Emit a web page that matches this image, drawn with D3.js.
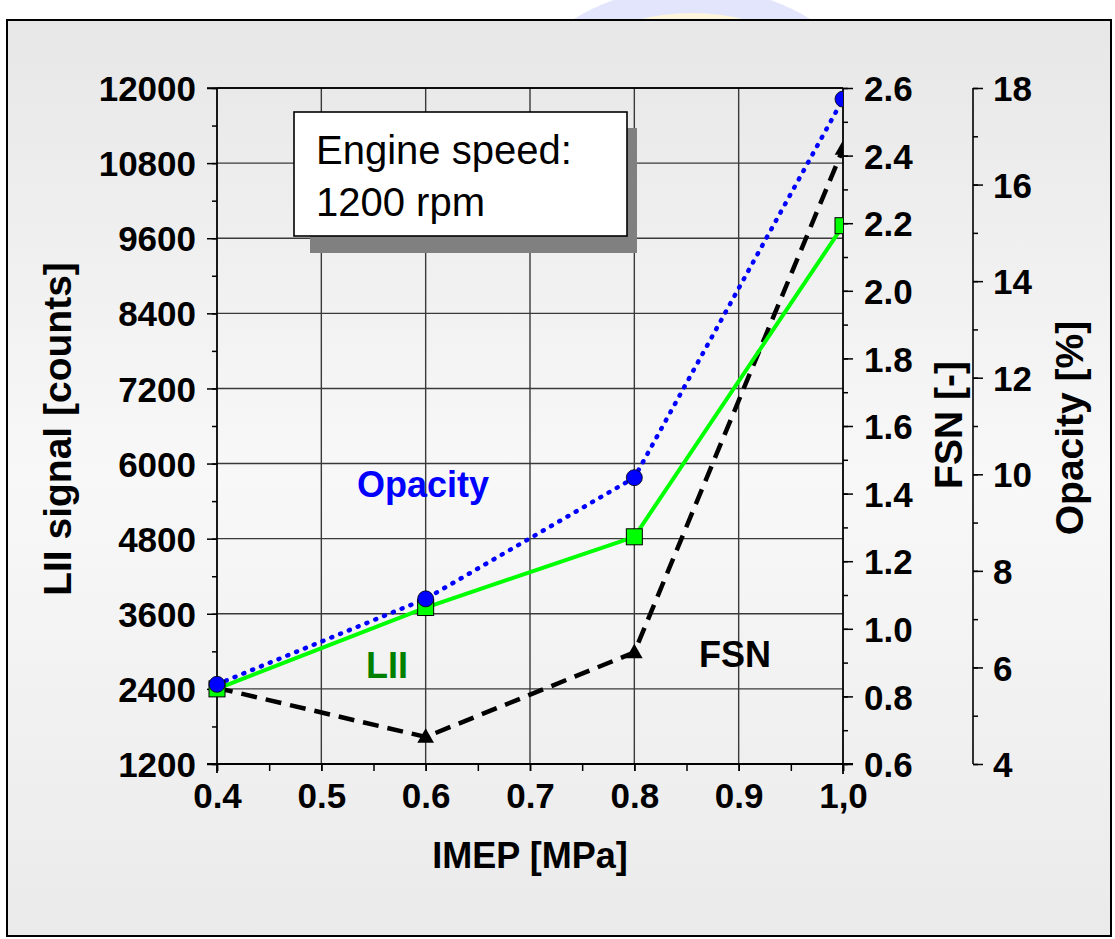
<!DOCTYPE html>
<html>
<head>
<meta charset="utf-8">
<script src="https://cdn.jsdelivr.net/npm/d3@7"></script>
<style>
  html, body { margin: 0; padding: 0; background: #ffffff; }
  svg { display: block; }
  text { font-family: "Liberation Sans", Arial, sans-serif; }
</style>
</head>
<body>
<svg id="chart" width="1115" height="939"></svg>
<script>
// ---- data ----
const imep = [0.4, 0.6, 0.8, 1.0];
const liiSignal = [2400, 3700, 4830, 9800];
const fsn = [0.825, 0.68, 0.93, 2.42];
const opacity = [5.65, 7.42, 9.93, 17.77];

const xTicks = [0.4, 0.5, 0.6, 0.7, 0.8, 0.9, 1.0];
const xTickLabels = ["0.4", "0.5", "0.6", "0.7", "0.8", "0.9", "1,0"];
const leftTicks = [1200, 2400, 3600, 4800, 6000, 7200, 8400, 9600, 10800, 12000];
const fsnTicks = [0.6, 0.8, 1.0, 1.2, 1.4, 1.6, 1.8, 2.0, 2.2, 2.4, 2.6];
const opacityTicks = [4, 6, 8, 10, 12, 14, 16, 18];

const xTitle = "IMEP [MPa]";
const leftTitle = "LII signal [counts]";
const fsnTitle = "FSN [-]";
const opacityTitle = "Opacity [%]";
const boxLines = ["Engine speed:", "1200 rpm"];

// ---- layout ----
const L = 217, R = 843, T = 88, B = 764;
const svg = d3.select("#chart");

const x = d3.scaleLinear().domain([0.4, 1.0]).range([L, R]);
const yL = d3.scaleLinear().domain([1200, 12000]).range([B, T]);
const yF = d3.scaleLinear().domain([0.6, 2.6]).range([B, T]);
const yO = d3.scaleLinear().domain([4, 18]).range([B, T]);

const defs = svg.append("defs");
const bg = defs.append("linearGradient").attr("id", "bg").attr("x1", 0).attr("y1", 0).attr("x2", 0).attr("y2", 1);
bg.append("stop").attr("offset", "0").attr("stop-color", "#e7e7e7");
bg.append("stop").attr("offset", "0.5").attr("stop-color", "#f8f8f8");
bg.append("stop").attr("offset", "1").attr("stop-color", "#eaeaea");
defs.append("clipPath").attr("id", "topclip").append("rect").attr("x", 0).attr("y", 0).attr("width", 1115).attr("height", 20);
defs.append("clipPath").attr("id", "plotclip").append("rect").attr("x", 200).attr("y", 70).attr("width", R - 200).attr("height", 720);

// faint logo above frame
const logo = svg.append("g").attr("clip-path", "url(#topclip)");
logo.append("ellipse").attr("cx", 692).attr("cy", 120).attr("rx", 168).attr("ry", 120)
  .attr("fill", "#fdf6dc").attr("stroke", "#e2e5fb").attr("stroke-width", 26);

// frame
svg.append("rect").attr("x", 7).attr("y", 20).attr("width", 1104).attr("height", 916)
  .attr("fill", "url(#bg)").attr("stroke", "#000").attr("stroke-width", 2);

// grid lines
const grid = svg.append("g");
grid.selectAll("line.v").data(xTicks.slice(1, -1)).join("line")
  .attr("x1", d => x(d)).attr("x2", d => x(d)).attr("y1", T).attr("y2", B)
  .attr("stroke", "#3a3a3a").attr("stroke-width", 1.4);
grid.selectAll("line.h").data(leftTicks.slice(1, -1)).join("line")
  .attr("x1", L).attr("x2", R).attr("y1", d => yL(d)).attr("y2", d => yL(d))
  .attr("stroke", "#3a3a3a").attr("stroke-width", 1.4);
// top & bottom border of plot
grid.append("line").attr("x1", L).attr("x2", R).attr("y1", T).attr("y2", T).attr("stroke", "#000").attr("stroke-width", 1.6);

// ---- axes ----
function styleAxis(g, size) {
  g.select(".domain").remove();
  g.selectAll(".tick line").attr("stroke", "#000").attr("stroke-width", 1.5);
  g.selectAll(".tick text").attr("fill", "#000").attr("font-size", size).attr("font-weight", "bold");
}

const range = (a, b, s) => d3.range(Math.round((b - a) / s) + 1).map(i => +(a + i * s).toFixed(6));

// left axis
const leftMinor = svg.append("g").attr("transform", `translate(${L},0)`)
  .call(d3.axisLeft(yL).tickValues(range(1200, 12000, 600)).tickSize(5).tickFormat(""));
styleAxis(leftMinor, 35);
const leftMajor = svg.append("g").attr("transform", `translate(${L},0)`)
  .call(d3.axisLeft(yL).tickValues(leftTicks).tickSize(10).tickPadding(11).tickFormat(d3.format("d")));
styleAxis(leftMajor, 35);
leftMajor.selectAll(".tick text").attr("dy", "0.36em");
svg.append("line").attr("x1", L).attr("x2", L).attr("y1", T).attr("y2", B + 9).attr("stroke", "#000").attr("stroke-width", 1.8);

// bottom axis
const botMinor = svg.append("g").attr("transform", `translate(0,${B})`)
  .call(d3.axisBottom(x).tickValues(range(0.4, 1.0, 0.05)).tickSize(7).tickFormat(""));
styleAxis(botMinor, 35);
const botMajor = svg.append("g").attr("transform", `translate(0,${B})`)
  .call(d3.axisBottom(x).tickValues(xTicks).tickSize(7).tickPadding(12)
    .tickFormat((d, i) => xTickLabels[i]));
styleAxis(botMajor, 35);
svg.append("line").attr("x1", L - 10).attr("x2", R + 10).attr("y1", B).attr("y2", B).attr("stroke", "#000").attr("stroke-width", 1.8);

// FSN axis
const fMinor = svg.append("g").attr("transform", `translate(${R},0)`)
  .call(d3.axisRight(yF).tickValues(range(0.6, 2.6, 0.1)).tickSize(5).tickFormat(""));
styleAxis(fMinor, 35);
const fMajor = svg.append("g").attr("transform", `translate(${R},0)`)
  .call(d3.axisRight(yF).tickValues(fsnTicks).tickSize(10).tickPadding(11).tickFormat(d3.format(".1f")));
styleAxis(fMajor, 35);
fMajor.selectAll(".tick text").attr("dy", "0.36em");
svg.append("line").attr("x1", R).attr("x2", R).attr("y1", T).attr("y2", B + 10).attr("stroke", "#000").attr("stroke-width", 1.8);
svg.append("line").attr("x1", L - 10).attr("x2", R).attr("y1", T).attr("y2", T).attr("stroke", "#000").attr("stroke-width", 1.6);

// Opacity axis
const OX = 973;
const oMinor = svg.append("g").attr("transform", `translate(${OX},0)`)
  .call(d3.axisRight(yO).tickValues(range(4, 18, 1)).tickSize(5).tickFormat(""));
styleAxis(oMinor, 35);
const oMajor = svg.append("g").attr("transform", `translate(${OX},0)`)
  .call(d3.axisRight(yO).tickValues(opacityTicks).tickSize(10).tickPadding(10).tickFormat(d3.format("d")));
styleAxis(oMajor, 35);
oMajor.selectAll(".tick text").attr("dy", "0.36em");
svg.append("line").attr("x1", OX).attr("x2", OX).attr("y1", T).attr("y2", B).attr("stroke", "#000").attr("stroke-width", 1.6);

// axis titles
svg.append("text").attr("x", 530).attr("y", 868).attr("text-anchor", "middle")
  .attr("font-size", 36).attr("font-weight", "bold").text(xTitle);
svg.append("text").attr("transform", "translate(71,429) rotate(-90)").attr("text-anchor", "middle")
  .attr("font-size", 39).attr("font-weight", "bold").text(leftTitle);
svg.append("text").attr("transform", "translate(962,425) rotate(-90)").attr("text-anchor", "middle")
  .attr("font-size", 39).attr("font-weight", "bold").text(fsnTitle);
svg.append("text").attr("transform", "translate(1083,428) rotate(-90)").attr("text-anchor", "middle")
  .attr("font-size", 39).attr("font-weight", "bold").text(opacityTitle);

// ---- series ----
const plot = svg.append("g").attr("clip-path", "url(#plotclip)");
const ptsL = imep.map((v, i) => [x(v), yL(liiSignal[i])]);
const ptsF = imep.map((v, i) => [x(v), yF(fsn[i])]);
const ptsO = imep.map((v, i) => [x(v), yO(opacity[i])]);
const line = d3.line();

plot.append("path").attr("d", line(ptsF)).attr("fill", "none").attr("stroke", "#000")
  .attr("stroke-width", 4.5).attr("stroke-dasharray", "16,9");
plot.append("path").attr("d", line(ptsL)).attr("fill", "none").attr("stroke", "#00ff00")
  .attr("stroke-width", 4);
plot.append("path").attr("d", line(ptsO)).attr("fill", "none").attr("stroke", "#0000ff")
  .attr("stroke-width", 4.5).attr("stroke-dasharray", "1,8.5").attr("stroke-linecap", "round");

plot.selectAll("path.tri").data(ptsF).join("path")
  .attr("d", d3.symbol().type(d3.symbolTriangle).size(120))
  .attr("transform", d => `translate(${d[0]},${d[1] + 1})`).attr("fill", "#000");
plot.selectAll("rect.sq").data(ptsL).join("rect")
  .attr("x", d => d[0] - 8).attr("y", d => d[1] - 8).attr("width", 16).attr("height", 16)
  .attr("fill", "#00ff00").attr("stroke", "#000").attr("stroke-width", 1);
plot.selectAll("circle.c").data(ptsO).join("circle")
  .attr("cx", d => d[0]).attr("cy", d => d[1]).attr("r", 8)
  .attr("fill", "#0000ff").attr("stroke", "#000").attr("stroke-width", 0.8);

// series labels
svg.append("text").attr("x", 357).attr("y", 497).attr("font-size", 36).attr("font-weight", "bold")
  .attr("fill", "#0000ff").text("Opacity");
svg.append("text").attr("x", 366).attr("y", 678).attr("font-size", 36).attr("font-weight", "bold")
  .attr("fill", "#008000").text("LII");
svg.append("text").attr("x", 699).attr("y", 667).attr("font-size", 36).attr("font-weight", "bold")
  .attr("fill", "#000").text("FSN");

// ---- annotation box ----
svg.append("rect").attr("x", 310).attr("y", 128).attr("width", 327).attr("height", 125).attr("fill", "#808080");
svg.append("rect").attr("x", 294).attr("y", 112).attr("width", 333).attr("height", 124)
  .attr("fill", "#fff").attr("stroke", "#000").attr("stroke-width", 1.6);
svg.selectAll("text.box").data(boxLines).join("text")
  .attr("x", 316).attr("y", (d, i) => 164 + i * 52).attr("font-size", 40).attr("fill", "#000").text(d => d);
</script>
</body>
</html>
